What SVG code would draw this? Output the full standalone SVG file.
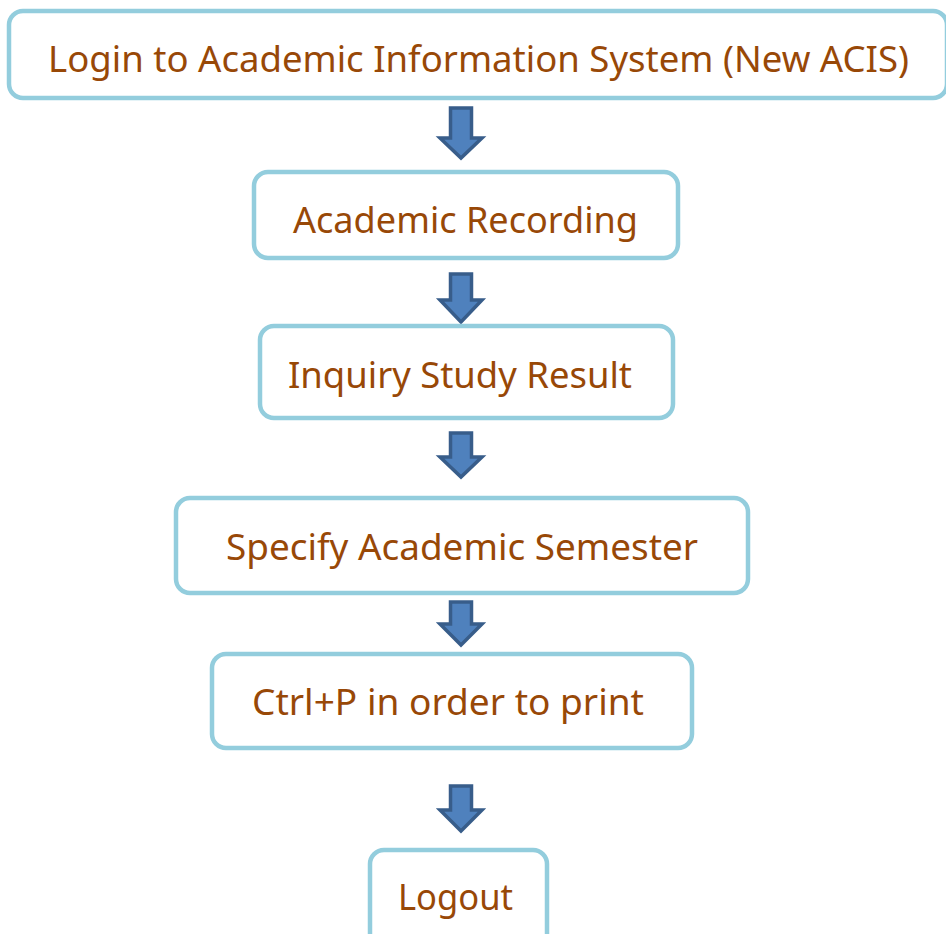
<svg xmlns="http://www.w3.org/2000/svg" width="946" height="934" viewBox="0 0 946 934">
<style>
.box{fill:#FFFFFF;stroke:#93CDDD;stroke-width:4.5}
.lbl{font-family:"Noto Sans","Liberation Sans",sans-serif;font-size:36px;fill:#984807}
.arr{fill:#4F81BD;stroke:#385D8A;stroke-width:3.5;stroke-linejoin:miter}
</style>
<rect width="946" height="934" fill="#FFFFFF"/>
<g id="connectors">
<polygon class="arr" points="450.5,108 471.5,108 471.5,138 482,138 461,158 440,138 450.5,138"/>
<polygon class="arr" points="450.5,274 471.5,274 471.5,300 482,300 461,322 440,300 450.5,300"/>
<polygon class="arr" points="450.5,433 471.5,433 471.5,457 482,457 461,477 440,457 450.5,457"/>
<polygon class="arr" points="450.5,602 471.5,602 471.5,624 482,624 461,645 440,624 450.5,624"/>
<polygon class="arr" points="450.5,786 471.5,786 471.5,810 482,810 461,831 440,810 450.5,810"/>
</g>
<g id="node1">
<rect class="box" x="9" y="11" width="938" height="87" rx="14"/>
<text class="lbl" x="48" y="72" textLength="861" lengthAdjust="spacingAndGlyphs">Login to Academic Information System (New ACIS)</text>
</g>
<g id="node2">
<rect class="box" x="254" y="172" width="424" height="86" rx="14"/>
<text class="lbl" x="293" y="233" textLength="345" lengthAdjust="spacingAndGlyphs">Academic Recording</text>
</g>
<g id="node3">
<rect class="box" x="260" y="326" width="413" height="92" rx="14"/>
<text class="lbl" x="288" y="388" textLength="344" lengthAdjust="spacingAndGlyphs">Inquiry Study Result</text>
</g>
<g id="node4">
<rect class="box" x="176" y="498" width="572" height="95" rx="14"/>
<text class="lbl" x="226" y="560" textLength="472" lengthAdjust="spacingAndGlyphs">Specify Academic Semester</text>
</g>
<g id="node5">
<rect class="box" x="212" y="654" width="480" height="94" rx="14"/>
<text class="lbl" x="252" y="715" textLength="392" lengthAdjust="spacingAndGlyphs">Ctrl+P in order to print</text>
</g>
<g id="node6">
<rect class="box" x="370" y="850" width="177" height="100" rx="14"/>
<text class="lbl" x="398" y="910" textLength="115" lengthAdjust="spacingAndGlyphs">Logout</text>
</g>
</svg>
